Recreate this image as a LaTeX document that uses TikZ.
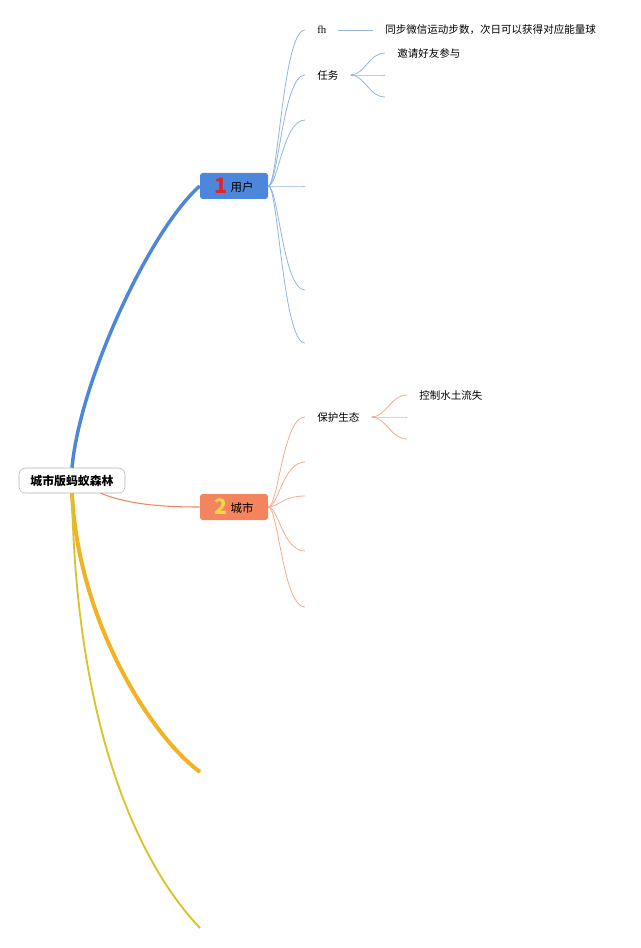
\documentclass[tikz,border=0pt]{standalone}
\usepackage{fontspec}
\setmainfont{Noto Sans CJK SC}
\newfontfamily\fhfont{Liberation Serif}
\usetikzlibrary{positioning, calc}

\definecolor{userblue}{HTML}{4D87DB}
\definecolor{userthin}{HTML}{93B3E3}
\definecolor{citysalmon}{HTML}{F2845E}
\definecolor{citythin}{HTML}{F5AD95}
\definecolor{goldthick}{HTML}{F0B323}
\definecolor{goldthin}{HTML}{D8C32A}
\definecolor{numred}{HTML}{E0242C}
\definecolor{numyellow}{HTML}{F7D64A}

\newcommand{\topicnum}[2]{\raisebox{-1.5pt}{\textcolor{#1}{\fontsize{16}{16}\selectfont\bfseries #2}}\hspace{2.5pt}}

\begin{document}
\begin{tikzpicture}[x=0.75pt, y=-0.75pt,
  topic/.style={rounded corners=2pt, minimum width=51pt, minimum height=19.5pt,
    inner sep=0pt, font=\fontsize{8.6}{10}\selectfont},
  leaf/.style={anchor=west, inner xsep=9pt, inner ysep=1pt,
    font=\fontsize{7.9}{9}\selectfont},
  userbranch/.style={draw=userthin, line width=0.6pt},
  citybranch/.style={draw=citysalmon!70, line width=0.6pt}]
  \useasboundingbox (0,0) rectangle (640,948);

  % Root and main topics
  \node[draw=gray!60, rounded corners=5pt, fill=white, minimum width=79.5pt,
        minimum height=18.75pt, font=\fontsize{8.9}{10}\selectfont\bfseries]
        (root) at (72,480.5) {城市版蚂蚁森林};
  \node[topic, fill=userblue] (user) at (234,186)
        {\topicnum{numred}{1}用户};
  \node[topic, fill=citysalmon] (city) at (234,507)
        {\topicnum{numyellow}{2}城市};

  % Main branches
  \draw[userblue, line width=2.6pt]
       (root.north) .. controls (80,380) and (150,230) .. (user.west);
  \draw[citysalmon, line width=0.8pt]
       (root.-24) .. controls (130,505) and (165,507) .. (city.west);
  \coordinate (gold1) at (200,772);
  \coordinate (gold2) at (200,928);
  \draw[goldthick, line width=3pt]
       (root.south) .. controls (78,620) and (150,735) .. (gold1);
  \draw[goldthin, line width=1.4pt]
       (root.south) .. controls (76,720) and (135,860) .. (gold2);

  % === User children ===
  \node[leaf, font=\fontsize{8}{9}\fhfont] (fh) at (305,30) {fh};
  \node[leaf] (sync) at (373,30) {同步微信运动步数，次日可以获得对应能量球};
  \node[leaf] (task) at (305,75) {任务};
  \node[leaf] (invite) at (385,53) {邀请好友参与};
  \foreach \name/\y in {u3/120, u4/186, u5/290, u6/343}
    \coordinate (\name) at (305,\y);
  \foreach \target in {fh.west, task.west, u3, u4, u5, u6}
    \draw[userbranch] (user.east) .. controls +(10,0) and +(-22,0) .. (\target);
  \draw[userbranch] (fh.east) -- (sync.west);
  \coordinate (t2) at (385,75);
  \coordinate (t3) at (385,97);
  \foreach \target in {invite.west, t2, t3}
    \draw[userbranch] (task.east) .. controls +(14,0) and +(-16,0) .. (\target);

  % === City children ===
  \node[leaf] (eco) at (305,417) {保护生态};
  \node[leaf] (soil) at (407,395) {控制水土流失};
  \foreach \name/\y in {c2/462, c3/496, c4/551, c5/607}
    \coordinate (\name) at (305,\y);
  \foreach \target in {eco.west, c2, c3, c4, c5}
    \draw[citybranch] (city.east) .. controls +(10,0) and +(-22,0) .. (\target);
  \coordinate (e2) at (407,417);
  \coordinate (e3) at (407,439);
  \foreach \target in {soil.west, e2, e3}
    \draw[citybranch] (eco.east) .. controls +(14,0) and +(-16,0) .. (\target);
\end{tikzpicture}
\end{document}
